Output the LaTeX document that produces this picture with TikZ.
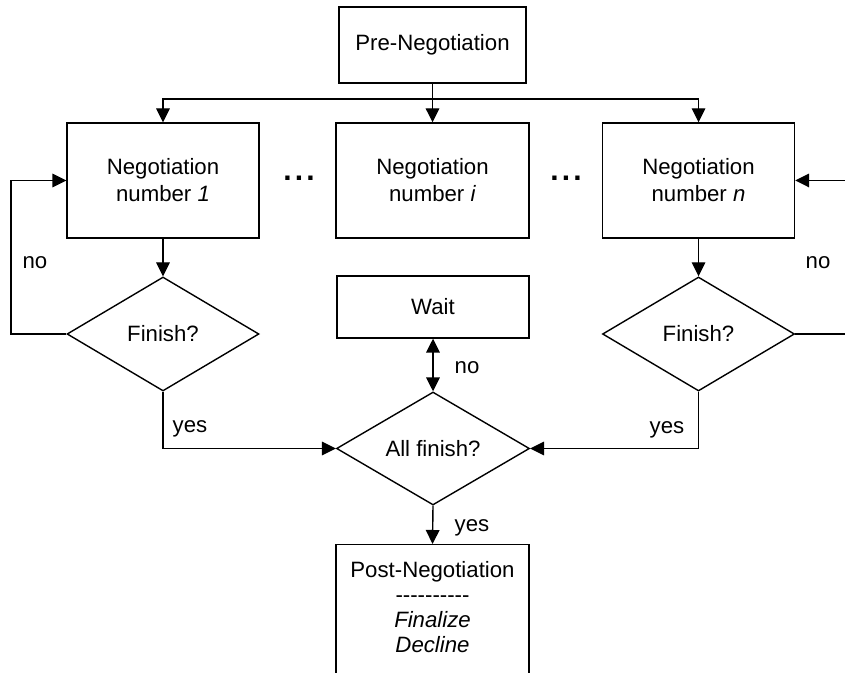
\documentclass[tikz,border=0pt]{standalone}
\usepackage{fontspec}
\setmainfont{Liberation Sans}
\usetikzlibrary{shapes.geometric,arrows.meta}
\begin{document}
\begin{tikzpicture}[x=0.5pt,y=-0.5pt,
  every node/.style={font=\fontsize{11.1}{13.5}\selectfont},
  box/.style={draw, line width=0.7pt, rectangle, inner sep=0pt, align=center},
  decision/.style={draw, line width=0.7pt, diamond, inner sep=0pt,
    minimum width=96pt, minimum height=57pt},
  link/.style={line width=0.7pt},
  tip/.tip={Triangle[length=7pt,width=6.8pt]},
  arr/.style={link, -tip},
  lbl/.style={inner sep=0pt}]

\useasboundingbox (0,0) rectangle (845,673);
\clip (0,0) rectangle (845,673);

% process boxes
\node[box, minimum width=93.5pt, minimum height=38pt] (pre) at (432.5,45) {Pre-Negotiation};
\node[box, minimum width=96pt, minimum height=57.5pt] (n1) at (163,180.5) {Negotiation\\number \textit{1}};
\node[box, minimum width=96.5pt, minimum height=57.5pt] (ni) at (432.5,180.5) {Negotiation\\number \textit{i}};
\node[box, minimum width=96pt, minimum height=57.5pt] (nn) at (698.5,180.5) {Negotiation\\number \textit{n}};

% ellipses between the parallel negotiations
\node[lbl, font=\fontsize{15}{15}\selectfont] (dotsL) at (299,178) {\textbf{.\hspace{1.6pt}.\hspace{1.6pt}.}};
\node[lbl, font=\fontsize{15}{15}\selectfont] (dotsR) at (566,178) {\textbf{.\hspace{1.6pt}.\hspace{1.6pt}.}};

% decisions
\node[decision] (f1) at (163,334) {Finish?};
\node[decision] (fn) at (698.5,334) {Finish?};
\node[box, minimum width=96pt, minimum height=31pt] (wait) at (433,307) {Wait};
\node[decision, minimum width=96.5pt, minimum height=56.5pt] (all) at (433,448.5) {All finish?};

% final stage
\node[box, minimum width=96.5pt, minimum height=80pt, anchor=north] (post) at (432.5,544) {};
\node[align=center, font=\fontsize{11.1}{12.5}\selectfont] (postnote) at (432.5,607)
  {Post-Negotiation\\{-}{-}{-}{-}{-}{-}{-}{-}{-}{-}\\\textit{Finalize}\\\textit{Decline}};

% fan-out from pre-negotiation
\coordinate (split) at (432.5,99);
\draw[link] (pre.south) -- (split);
\draw[arr] (split) -| (n1.north);
\draw[arr] (split) -- (ni.north);
\draw[arr] (split) -| (nn.north);

% negotiation loops
\draw[arr] (n1.south) -- (f1.north);
\draw[arr] (nn.south) -- (fn.north);
\coordinate (loopL) at (11,180.5);
\coordinate (loopR) at (870,180.5);
\draw[arr] (f1.west) -| (loopL) -- (n1.west);
\draw[arr] (fn.east) -| (loopR) -- (nn.east);

% joining
\draw[arr] (f1.south) |- (all.west);
\draw[arr] (fn.south) |- (all.east);
\draw[link, tip-tip] (wait.south) -- (all.north);
\draw[arr] (all.south) -- (post.north);

% labels
\node[lbl] (noL) at (35,263) {no};
\node[lbl] (noR) at (818,263) {no};
\node[lbl] (noW) at (467,368) {no};
\node[lbl] (yesL) at (190,429) {yes};
\node[lbl] (yesR) at (667,430) {yes};
\node[lbl] (yesB) at (472,528) {yes};
\end{tikzpicture}
\end{document}
